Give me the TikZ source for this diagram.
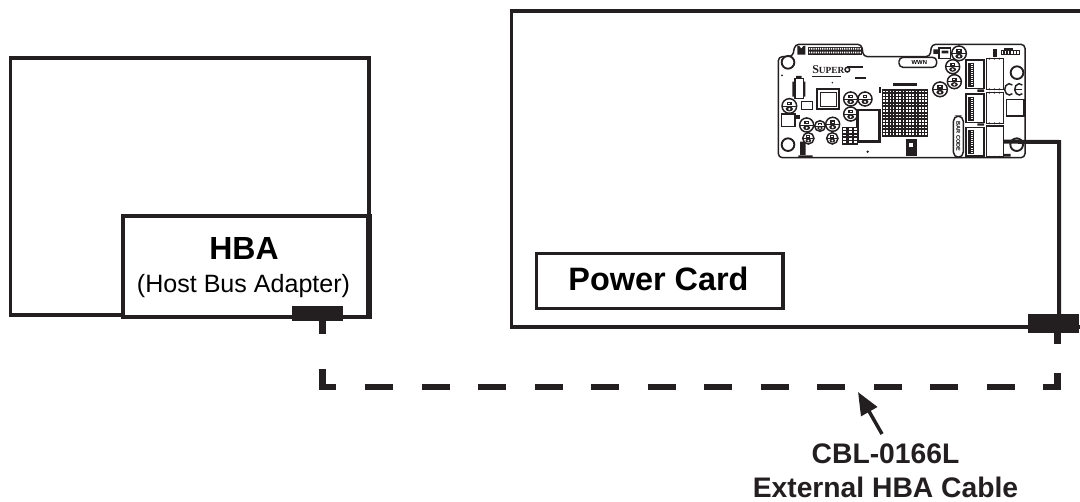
\documentclass[tikz,border=0pt]{standalone}
\usepackage{fontspec}
\usetikzlibrary{arrows.meta}
\setmainfont{Liberation Sans}
\newfontfamily\logofont{Liberation Serif}
\definecolor{ink}{HTML}{231F20}
\tikzset{
  frame/.style={draw=ink,line width=2.7pt,line join=miter},
  labelbox/.style={draw=ink,line width=2.7pt,fill=white,inner sep=0pt,anchor=north west},
  plug/.style={fill=ink,draw=none,inner sep=0pt,anchor=north west},
  bl/.style={draw=ink,line width=.7pt},
  blthick/.style={draw=ink,line width=1.1pt},
}
\newcommand{\boardcap}[3]{%
  \draw[blthick,fill=white] (#1,#2) circle (#3);
  \fill[ink] (#1-#3*.35,#2-#3*.55) rectangle (#1+#3*.35,#2-#3*.1);
  \fill[ink] (#1,#2+#3*.4) ellipse ({#3*.5} and {#3*.33});
  \fill[white] (#1,#2+#3*.4) circle ({#3*.17});
  \fill[white] (#1-#3*.15,#2-#3*.4) rectangle (#1+#3*.15,#2-#3*.25);
  \draw[bl] (#1-#3*1.05,#2) -- (#1+#3*1.05,#2);
  \fill[ink] (#1,#2-#3) circle (2.5) (#1,#2+#3) circle (2.5);
}
\newcommand{\boardhole}[2]{\draw[draw=ink,line width=1.4pt,fill=white] (#1,#2) circle (19);}
\newcommand{\boardport}[2]{%
  \draw[blthick] (#1,#2) rectangle ++(54,86);
  \fill[ink] (#1+5,#2+8) rectangle ++(18,72);
  \foreach \k in {0,...,10} {\fill[white] (#1+15,#2+11+\k*6.2) rectangle ++(6,2);}
  \draw[blthick] (#1+62,#2-4) rectangle ++(50,92);
  \foreach \k in {70,85,100} {\fill[ink] (#1+\k,#2-4) circle (3) (#1+\k,#2+88) circle (3);}
}
\begin{document}
\begin{tikzpicture}[x=.75pt,y=-.75pt]
\useasboundingbox (0,0) rectangle (1080,502);
% left enclosure
\draw[frame] (10.5,58) rectangle (369,315);
\node[labelbox,minimum width=185.75pt,minimum height=75.5pt] (hba) at (121,214.5) {};
\node[font=\bfseries\fontsize{24}{24}\selectfont,inner sep=0pt] (hbat) at (244,248.5) {HBA};
\node[anchor=base,font=\fontsize{18.8}{18.8}\selectfont,inner sep=0pt] (hbas) at (243.5,292) {(Host Bus Adapter)};
\draw[draw=ink,line width=4pt] (369,214) -- (369,317);
\node[plug,minimum width=38.25pt,minimum height=11.25pt] (hbaplug) at (292,306) {};
\coordinate (hbastem) at (322.5,321);
% right enclosure
\draw[frame] (1079.5,11) -- (511.5,11) -- (511.5,327) -- (1079.5,327);
\node[labelbox,minimum width=185pt,minimum height=41.5pt] (power) at (534.5,251.5) {};
\node[font=\bfseries\fontsize{24.3}{24.3}\selectfont,inner sep=0pt] (powert) at (658.5,279) {Power Card};
\node[plug,minimum width=38.25pt,minimum height=14.25pt] (pcplug) at (1028,314) {};
\coordinate (pcstem) at (1057.5,333);
\coordinate (pctop) at (1059,314);
% board
\begin{scope}[shift={(760,30)},x=.25pt,y=-.25pt]
  \draw[blthick,rounded corners=3pt] (55,80) -- (98,80) -- (105,43) -- (305,43) -- (310,80) -- (510,80) -- (515,43) -- (795,43) -- (795,383) -- (55,383) -- cycle;
  % header
  \fill[ink] (143,50) rectangle (305,75);
  \foreach \i in {0,...,23} {\fill[white] (147+\i*6.6,54) rectangle ++(3.6,5) (147+\i*6.6,65) rectangle ++(3.6,5);}
  \fill[ink] (112,48) -- (118,48) -- (124,56) -- (130,48) -- (136,48) -- (136,74) -- (112,74) -- cycle;
  % WWN
  \draw[blthick,rounded corners=3pt] (417,82) rectangle (530,112);
  \node[font=\bfseries\fontsize{4.4}{4.4}\selectfont,inner sep=0pt] (wwn) at (478,97) {WWN};
  % logo
  \node[font=\logofont\bfseries\fontsize{9}{9}\selectfont,inner sep=0pt,text=ink] (logo) at (205,120) {S\fontsize{7}{7}\selectfont UPER};
  \draw[blthick] (262,119) circle (7);
  \fill[ink] (157,137) rectangle (243,141);
  \fill[ink] (262,107) rectangle (310,114);
  \fill[ink] (285,141) rectangle (318,146);
  \fill[ink] (66,136) circle (3) (217,158) circle (2.5) (323,365) circle (4);
  % holes
  \boardhole{84}{97}\boardhole{84}{344}\boardhole{771}{128}\boardhole{770}{344}
  % coil and chips
  \draw[blthick] (105,145) rectangle (130,205);
  \fill[ink] (97,155) rectangle (105,200) (130,155) rectangle (136,200) (108,138) rectangle (125,145);
  \draw[draw=ink,line width=1.4pt] (172,178) rectangle (238,238);
  \draw[bl] (182,187) rectangle (229,229);
  \draw[draw=ink,line width=1.2pt] (125,214) rectangle (157,238);
  \draw[draw=ink,line width=1.2pt] (65,252) rectangle (105,290);
  \fill[ink] (105,255) rectangle (120,268);
  % caps
  \boardcap{88}{228}{22}\boardcap{140}{285}{21}\boardcap{218}{283}{21}
  \boardcap{272}{207}{21}\boardcap{315}{207}{21}\boardcap{272}{252}{21}
  \boardcap{145}{325}{17}\boardcap{217}{325}{17}\boardcap{180}{288}{16}
  \boardcap{597}{70}{22}\boardcap{578}{110}{21}\boardcap{583}{155}{21}\boardcap{540}{178}{22}
  % module
  \draw[draw=ink,line width=2pt] (293,240) rectangle (358,335);
  \fill[ink] (245,290) rectangle (295,345);
  \foreach \i in {0,1,2} \foreach \j in {0,...,4} {\fill[white] (250+\i*16,294+\j*10) rectangle ++(9,5);}
  \fill[ink] (120,335) rectangle (137,375) (115,376) rectangle (158,384);
  % BGA
  \fill[ink] (365,178) rectangle (505,320);
  \foreach \i in {0,...,13} \foreach \j in {0,...,13} {\fill[white] (369+\i*9.8,182+\j*9.8) rectangle ++(5,5);}
  \fill[ink] (400,160) rectangle (470,168);
  \fill[ink] (356,172) rectangle (364,190);
  \fill[ink] (437,328) rectangle (470,378);
  \fill[white] (447,340) rectangle (460,352);
  % small top connector
  \draw[blthick] (537,54) rectangle (572,86);
  \fill[ink] (520,58) rectangle (536,72) (545,62) rectangle (565,70);
  % ports
  \boardport{618}{90}\boardport{618}{192}\boardport{618}{292}
  \fill[ink] (652,178) rectangle (672,186) (652,280) rectangle (672,287) (732,372) rectangle (752,380);
  % top right
  \fill[ink] (700,58) rectangle (710,82);
  \draw[blthick] (725,62) rectangle (778,74);
  \foreach \i in {0,...,4} {\fill[ink] (729+\i*9.5,64) rectangle ++(5,8);}
  \fill[ink] (733,55) rectangle (760,59);
  % bar code
  \draw[blthick,rounded corners=4pt] (580,258) rectangle (610,382);
  \node[font=\bfseries\fontsize{4.2}{4.2}\selectfont,inner sep=0pt,rotate=-90] (barcode) at (595,320) {BAR CODE};
  % CE
  \draw[blthick] (757,165) arc (310:50:14 and 17);
  \draw[blthick] (787,165) arc (310:50:14 and 17);
  \draw[bl] (765,178) -- (787,178);
  \draw[blthick] (740,208) rectangle (792,258);
  \coordinate (boardout) at (732,335);
\end{scope}
% cables
\draw[draw=ink,line width=3pt,line join=miter] (boardout) -- (1059,142) -- (pctop);
\draw[draw=ink,line width=5pt,line join=miter,dash pattern=on 9.75pt off 26.25pt on 23.6pt off 21.75pt on 21pt off 21.4pt on 21pt off 21.4pt on 21pt off 21.4pt on 21pt off 21.4pt on 21pt off 21.4pt on 21pt off 21.4pt on 21pt off 21.4pt on 21pt off 21.4pt on 21pt off 21.4pt on 21pt off 21.4pt on 21pt off 21.4pt on 21pt off 21pt on 21.4pt off 21.75pt on 9pt off 200pt]
  (hbastem) -- (322.5,387) -- (1057.5,387) -- (pcstem);
% label
\node[align=center,font=\bfseries\fontsize{21.2}{25.5}\selectfont,inner sep=0pt,text=ink] (cbl) at (885.5,471) {CBL-0166L\\External HBA Cable};
\coordinate (arrowtip) at (858,392);
\draw[draw=ink,line width=2.6pt,-{Triangle[length=17pt,width=13.5pt]}] (882,434) -- (arrowtip);
\end{tikzpicture}
\end{document}
